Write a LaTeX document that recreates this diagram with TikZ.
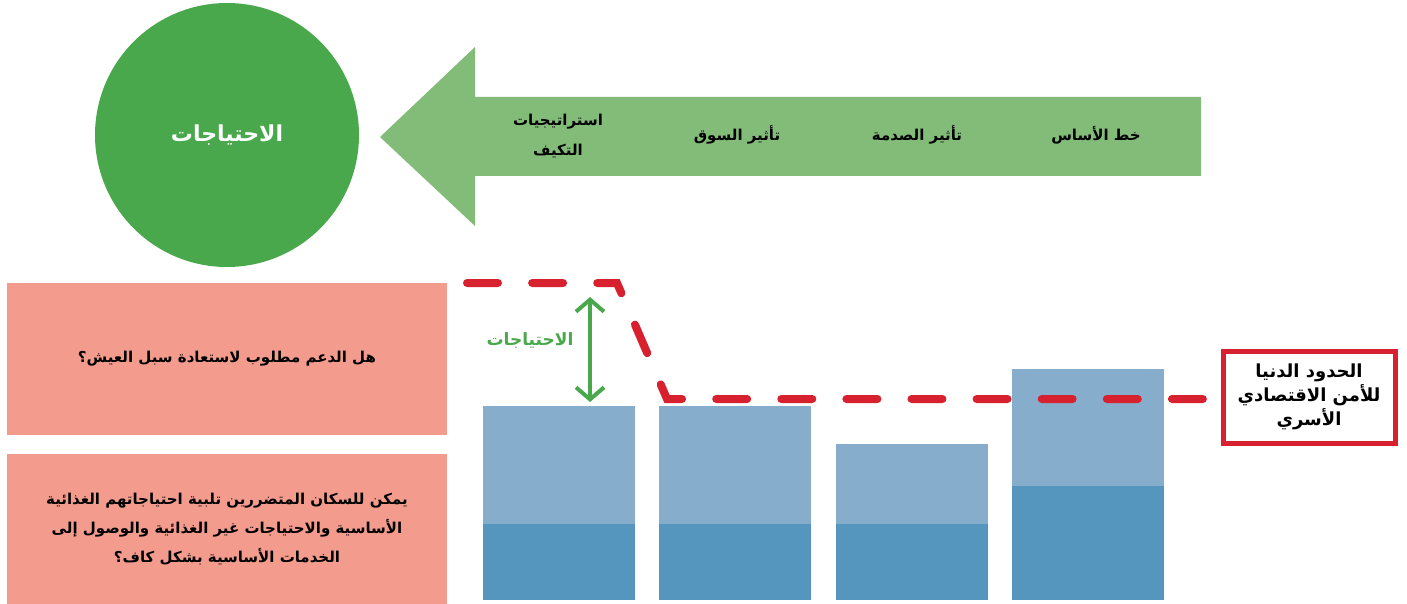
\documentclass[tikz,border=0pt]{standalone}
\usepackage{fontspec}
\usetikzlibrary{arrows.meta}
\TeXXeTstate=1
\newfontfamily\arabicfont[Script=Arabic]{DejaVu Sans}
\newcommand{\ar}[1]{{\arabicfont\bfseries\beginR #1\endR}}
\definecolor{needgreen}{HTML}{49A84B}
\definecolor{stepgreen}{HTML}{82BC78}
\definecolor{qpink}{HTML}{F39C8D}
\definecolor{barlight}{HTML}{87ADCC}
\definecolor{bardark}{HTML}{5596BE}
\definecolor{lineRed}{HTML}{D7212F}
\tikzset{
  steplabel/.style={font=\fontsize{15}{30}\selectfont, align=center},
  qbox/.style={fill=qpink, minimum width=440, minimum height=152, inner sep=0pt,
    font=\fontsize{15}{29}\selectfont, align=center},
  lightbar/.style={fill=barlight},
  darkbar/.style={fill=bardark},
}
\begin{document}
\begin{tikzpicture}[x=1pt,y=-1pt]
    \useasboundingbox (0,0) rectangle (1407,604);
    % needs circle
    \node(needs)[circle,fill=needgreen,minimum size=264,inner sep=0pt]at(227,135)
        {\color{white}\fontsize{22}{24}\selectfont\ar{الاحتياجات}};
    % big arrow
    \fill[stepgreen](1201,97)--(475,97)--(475,47)--(380,137)--(475,226)--(475,176)--(1201,176)--cycle;
    \node(base)[steplabel]at(1096,135){\ar{خط الأساس}};
    \node(shock)[steplabel]at(917,135){\ar{تأثير الصدمة}};
    \node(market)[steplabel]at(737,135){\ar{تأثير السوق}};
    \node(coping)[steplabel]at(558,136){\ar{استراتيجيات}\\\ar{التكيف}};
    % questions
    \node(q1)[qbox]at(227,359){\ar{هل الدعم مطلوب لاستعادة سبل العيش؟}};
    \node(q2)[qbox,minimum height=150]at(227,529)
        {\ar{يمكن للسكان المتضررين تلبية احتياجاتهم الغذائية}\\
         \ar{الأساسية والاحتياجات غير الغذائية والوصول إلى}\\
         \ar{الخدمات الأساسية بشكل كاف؟}};
    % bars
    \fill[lightbar](483,406)rectangle(635,524);
    \fill[darkbar](483,524)rectangle(635,600);
    \fill[lightbar](659,406)rectangle(811,524);
    \fill[darkbar](659,524)rectangle(811,600);
    \fill[lightbar](836,444)rectangle(988,524);
    \fill[darkbar](836,524)rectangle(988,600);
    \fill[lightbar](1012,369)rectangle(1164,486);
    \fill[darkbar](1012,486)rectangle(1164,600);
    % threshold line
    \coordinate(t1)at(467,283);
    \coordinate(t2)at(617,283);
    \coordinate(t3)at(667,399);
    \coordinate(t4)at(1203,399);
    \draw[lineRed,line width=8,line cap=round,dash pattern=on 31 off 34.1](t1)--(t2)--(t3)--(t4);
    \node(floor)[draw=lineRed,line width=5,fill=white,minimum width=172,minimum height=92,
        inner sep=0pt,font=\fontsize{18}{24}\selectfont,align=center]at(1309,397)
        {\ar{الحدود الدنيا}\\\ar{للأمن الاقتصادي}\\\ar{الأسري}};
    % needs gap
    \coordinate(gaptop)at(590,297);
    \coordinate(gapbot)at(590,402);
    \draw[needgreen,line width=4,{Straight Barb[length=12,width=28]}-{Straight Barb[length=12,width=28]}](gaptop)--(gapbot);
    \node(gap)[text=needgreen,font=\fontsize{17}{18}\selectfont]at(530,341){\ar{الاحتياجات}};
\end{tikzpicture}
\end{document}
